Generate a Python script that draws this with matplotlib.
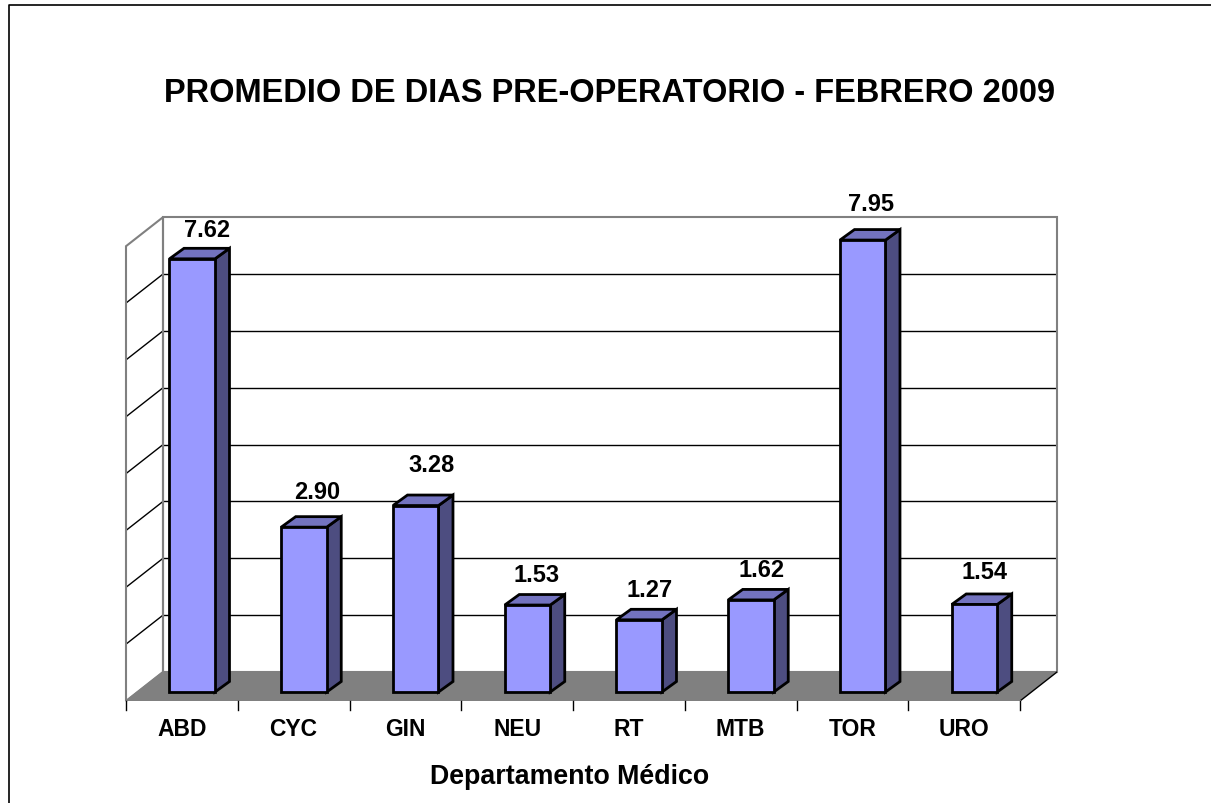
import matplotlib
matplotlib.use('Agg')
import matplotlib.pyplot as plt
from matplotlib.patches import Polygon

plt.rcParams['font.family'] = ['Liberation Sans', 'DejaVu Sans']

departments = ['ABD', 'CYC', 'GIN', 'NEU', 'RT', 'MTB', 'TOR', 'URO']
dias = [7.62, 2.90, 3.28, 1.53, 1.27, 1.62, 7.95, 1.54]
y_grid = [1, 2, 3, 4, 5, 6, 7, 8]

# hand placed data labels in the original, offsets in pixels from bar centre / top
label_dx = [15, 13, 16, 9, 10, 11, 8, 10]
label_dy = [29, 36, 41, 31, 30, 30, 37, 33]

W, H = 1211, 804
X0, X1 = 126, 1020   # front edge of floor, pixels
Y0 = 702
CAT_W = (X1 - X0) / 8
UNIT = 56.85
DEPTH_X = 37 / CAT_W
DEPTH_Y = 29 / UNIT

fig = plt.figure(figsize=(W / 100, H / 100), dpi=100)
fig.patch.set_facecolor('white')
ax = fig.add_axes([X0 / W, (H - Y0) / H, (X1 + 37 - X0) / W, (8 * UNIT + 29) / H])
ax.set_xlim(0, 8 + DEPTH_X)
ax.set_ylim(0, 8 + DEPTH_Y)
ax.axis('off')

GRAY = '#808080'


def poly(pts, fc, ec='black', lw=2, z=5):
    ax.add_patch(Polygon(pts, closed=True, facecolor=fc, edgecolor=ec, linewidth=lw,
                         zorder=z, clip_on=False, joinstyle='miter'))


# walls and gridlines
for v in y_grid[:-1]:
    ax.plot([DEPTH_X, 8 + DEPTH_X], [v + DEPTH_Y, v + DEPTH_Y], color='black', lw=1, zorder=1)
    ax.plot([0, DEPTH_X], [v, v + DEPTH_Y], color='black', lw=1, zorder=1)
poly([(DEPTH_X, DEPTH_Y), (8 + DEPTH_X, DEPTH_Y), (8 + DEPTH_X, 8 + DEPTH_Y), (DEPTH_X, 8 + DEPTH_Y)],
     'none', ec=GRAY, lw=1.5, z=2)
poly([(0, 0), (DEPTH_X, DEPTH_Y), (DEPTH_X, 8 + DEPTH_Y), (0, 8)], 'none', ec=GRAY, lw=1.5, z=2)

# floor
poly([(0, 0), (8, 0), (8 + DEPTH_X, DEPTH_Y), (DEPTH_X, DEPTH_Y)], GRAY, ec='none', lw=0, z=3)
ax.plot([8, 8 + DEPTH_X], [0, DEPTH_Y], color='black', lw=1, zorder=3)
ax.plot([0, DEPTH_X], [0, DEPTH_Y], color=GRAY, lw=1, zorder=3)
ax.plot([0, 8], [0, 0], color=GRAY, lw=1.5, zorder=4)

# tick marks below the front edge
for i in range(9):
    ax.plot([i, i], [0, -9 / UNIT], color='black', lw=1, clip_on=False, zorder=4)

# bars
BAR_W = 45.5 / CAT_W
BAR_FX = 0.28
BAR_FY = 0.31
BAR_DX = 14.5 / CAT_W
BAR_DY = 10.5 / UNIT
for i, (name, v) in enumerate(zip(departments, dias)):
    left = i + 0.5 - BAR_W / 2 + BAR_FX * DEPTH_X
    right = left + BAR_W
    base = BAR_FY * DEPTH_Y
    top = base + v
    poly([(right, base), (right + BAR_DX, base + BAR_DY), (right + BAR_DX, top + BAR_DY), (right, top)], '#4D4D80')
    poly([(left, top), (right, top), (right + BAR_DX, top + BAR_DY), (left + BAR_DX, top + BAR_DY)], '#7373BF')
    poly([(left, base), (right, base), (right, top), (left, top)], '#9999FF')
    ax.annotate(f'{v:.2f}', ((left + right) / 2, top), xytext=(label_dx[i] * 0.72, label_dy[i] * 0.72),
                textcoords='offset points', ha='center', va='center', fontsize=17,
                fontweight='bold', annotation_clip=False, zorder=6)
    ax.text(i + 0.5, -28 / UNIT, name, ha='center', va='center', fontsize=16.5,
            fontweight='bold', clip_on=False)

fig.text(610 / W, 1 - 93 / H, 'PROMEDIO DE DIAS PRE-OPERATORIO - FEBRERO 2009',
         ha='center', va='center', fontsize=23.5, fontweight='bold')
fig.text(570 / W, 1 - 777 / H, 'Departamento Médico', ha='center', va='center',
         fontsize=19.3, fontweight='bold')

# chart area border, right and bottom are cut off in the original
fig.add_artist(plt.Line2D([8.5 / W, 8.5 / W, 1], [0, 1 - 6 / H, 1 - 6 / H], color='black', lw=1.2))

fig.savefig('out.png', dpi=100)
